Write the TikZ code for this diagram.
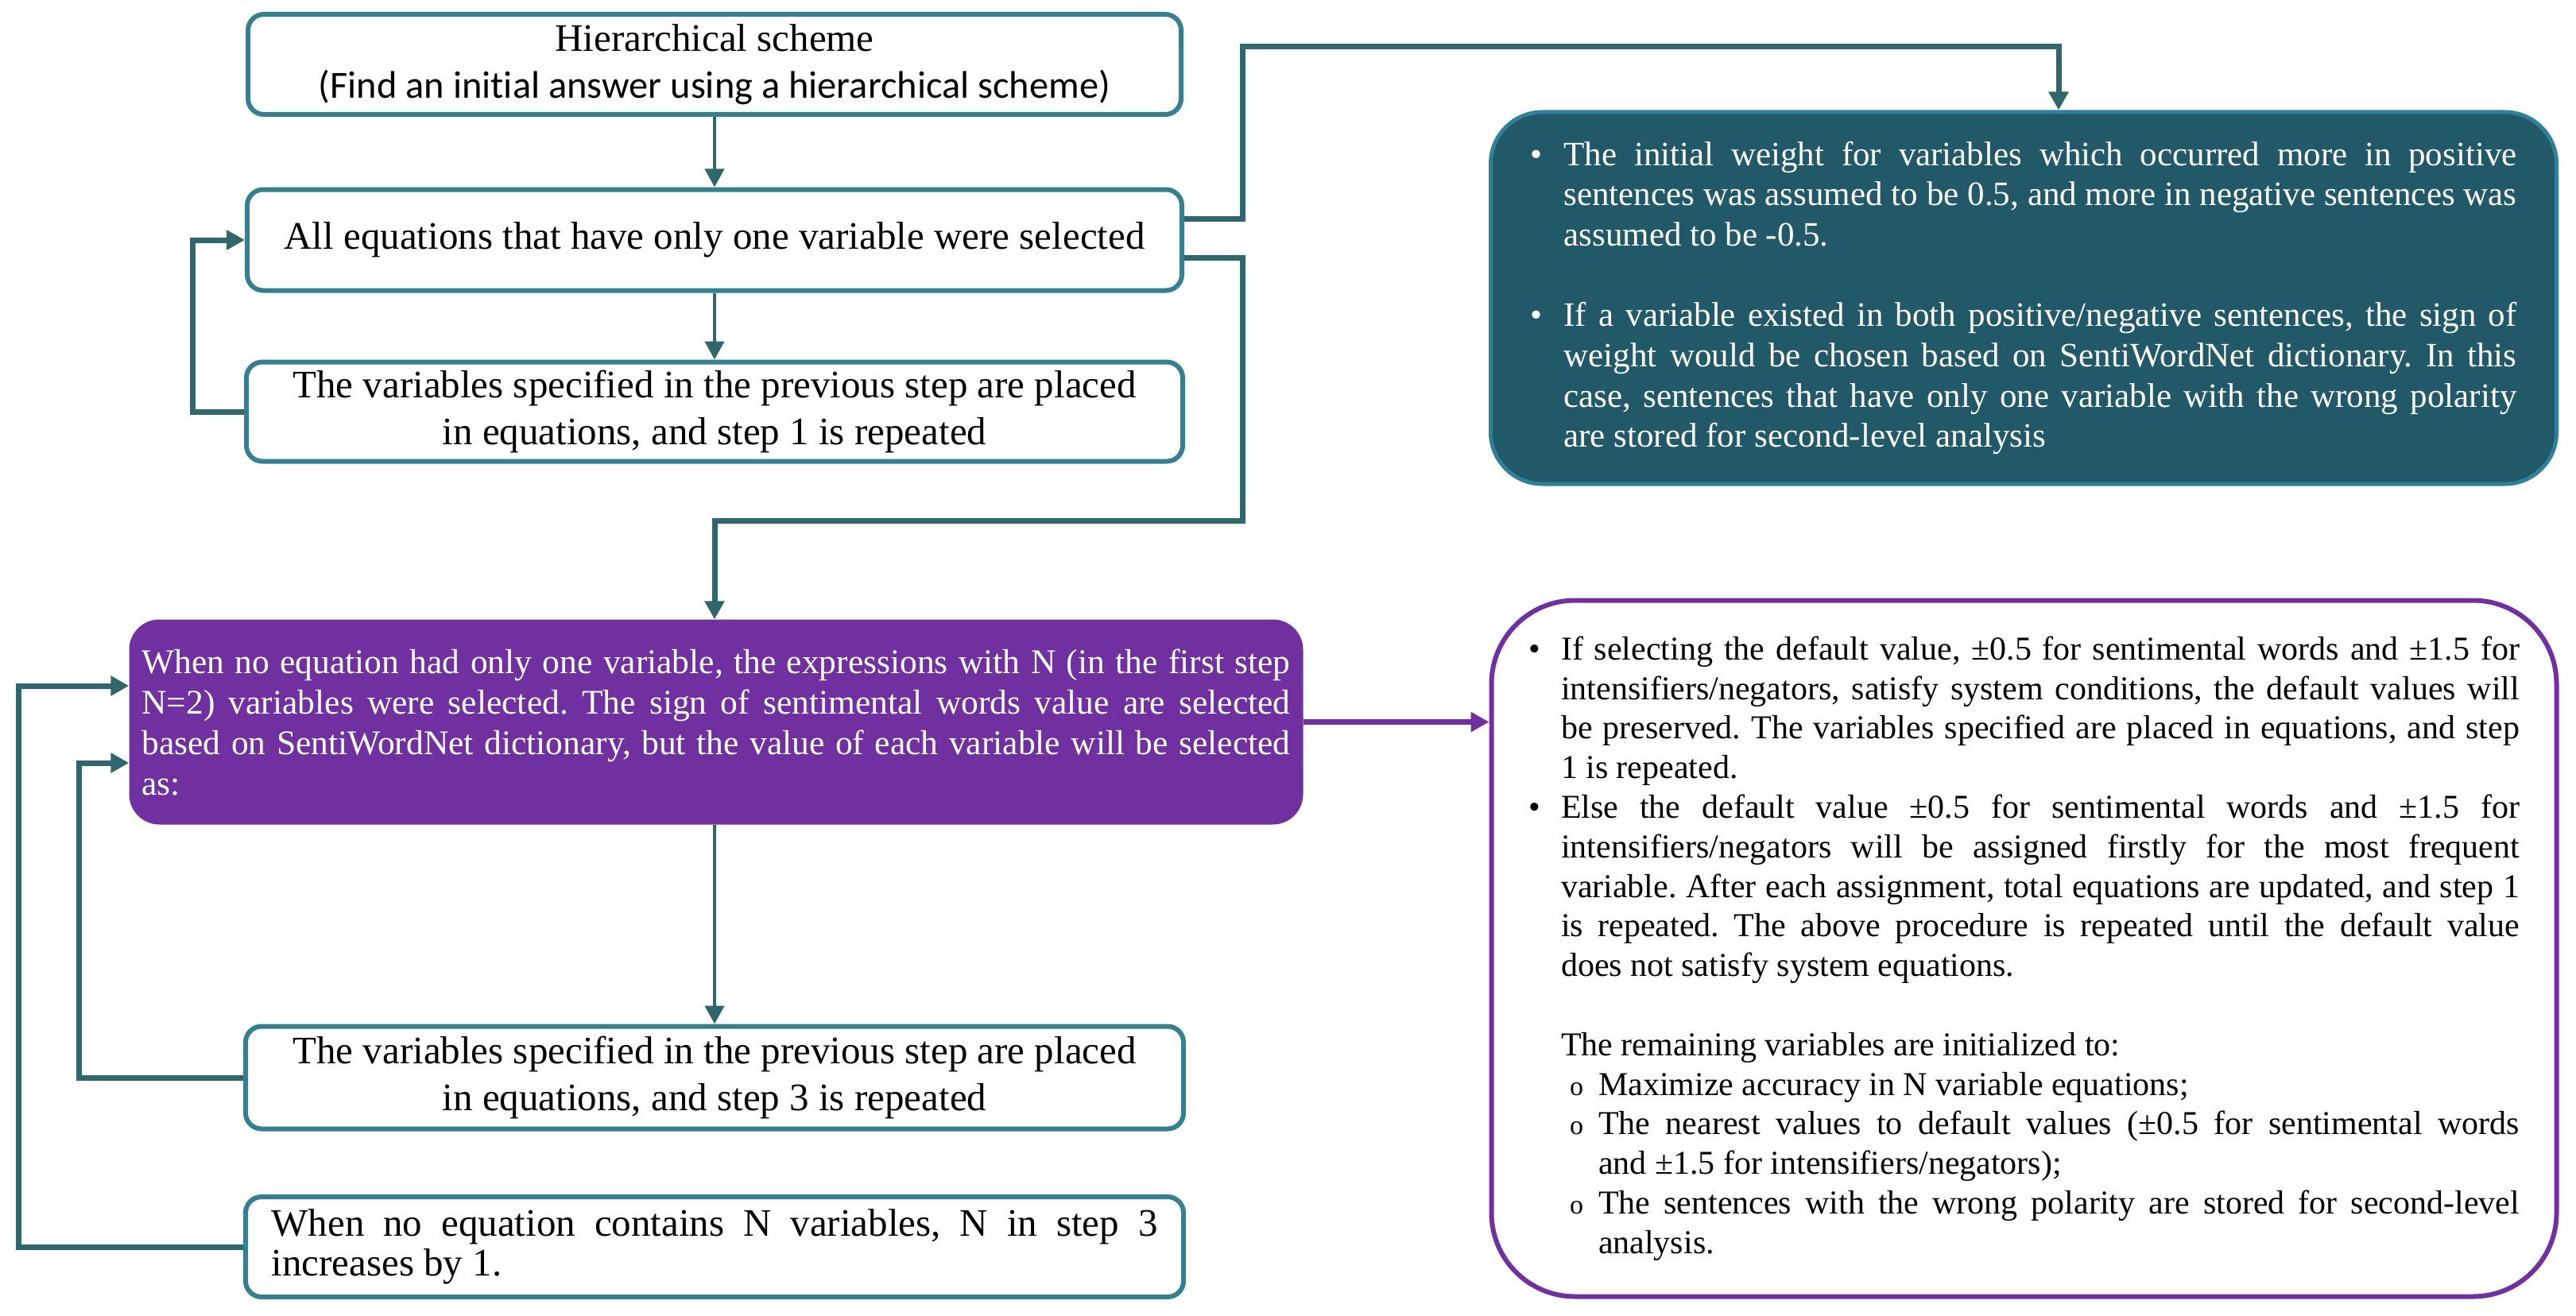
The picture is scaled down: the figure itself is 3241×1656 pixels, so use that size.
\documentclass[tikz,border=0pt]{standalone}
\usepackage{fontspec}
\setmainfont[Ligatures=NoCommon]{Liberation Serif}
\newfontfamily\calibri[Ligatures={NoCommon,NoDiscretionary,NoRare}]{Carlito}
\usetikzlibrary{arrows.meta}
\definecolor{boxteal}{HTML}{357F90}
\definecolor{darkteal}{HTML}{215968}
\definecolor{tealedge}{HTML}{31809A}
\definecolor{conn}{HTML}{2F676D}
\definecolor{purp}{HTML}{7030A0}
\newcommand{\jl}[2][0pt]{\hbox to\linewidth{\hskip#1\relax\hbox to\dimexpr\linewidth-#1\relax{#2}}}
\newcommand{\lastl}[2][0pt]{\hbox to\linewidth{\hskip#1\relax#2\hfil}}
\newcommand{\mkr}[2]{\llap{\hbox to#1{#2\hfil}}}
\newcommand{\subo}{{\fontsize{34}{34}\selectfont o}}
\newcommand{\tblock}[2]{\vbox{\hsize=#1\relax\linewidth=#1\relax #2}}
\tikzset{
  tbox/.style={draw=boxteal, line width=6pt, rounded corners=20pt, fill=white,
    inner sep=0pt, align=center, font=\fontsize{49}{59}\selectfont},
  conn/.style={draw=conn, line width=7pt, -{Triangle[length=23pt,width=24pt]}},
  vconn/.style={draw=conn, line width=4.5pt, -{Triangle[length=23pt,width=24pt]}},
  pconn/.style={draw=purp, line width=7pt, -{Triangle[length=23pt,width=24pt]}},
}
\frenchspacing
\begin{document}
\frenchspacing
\begin{tikzpicture}[x=1pt,y=-1pt]
\useasboundingbox (0,0) rectangle (3241,1656);

\node[tbox, minimum width=1174pt, minimum height=126pt] (b1) at (899,81)
  {Hierarchical scheme\\{\calibri\fontsize{48.4}{59}\selectfont (Find an initial answer using a hierarchical scheme)}};
\node[tbox, minimum width=1176pt, minimum height=127pt] (b2) at (899,302)
  {All equations that have only one variable were selected};
\node[tbox, minimum width=1178pt, minimum height=125pt] (b3) at (899,518)
  {The variables specified in the previous step are placed\\in equations, and step 1 is repeated};

\node[fill=darkteal, draw=tealedge, line width=5pt, rounded corners=65pt,
  minimum width=1341pt, minimum height=468pt, inner sep=0pt, text=white,
  font=\fontsize{43}{50.7}\selectfont] (teal) at (2546,375)
  {\tblock{1241pt}{%
   \jl[42pt]{\mkr{42pt}{\textbullet}The initial weight for variables which occurred more in positive}
   \jl[42pt]{sentences was assumed to be 0.5, and more in negative sentences was}
   \lastl[42pt]{assumed to be -0.5.}
   \hbox{}
   \jl[42pt]{\mkr{42pt}{\textbullet}If a variable existed in both positive/negative sentences, the sign of}
   \jl[42pt]{weight would be chosen based on SentiWordNet dictionary. In this}
   \jl[42pt]{case, sentences that have only one variable with the wrong polarity}
   \lastl[42pt]{are stored for second-level analysis}}};

\node[fill=purp, draw=none, rounded corners=38pt,
  minimum width=1477pt, minimum height=258pt, inner sep=0pt, text=white,
  font=\fontsize{43.5}{51}\selectfont] (pF) at (901,908.5)
  {\tblock{1445pt}{%
   \jl{When no equation had only one variable, the expressions with N (in the first step}
   \jl{N=2) variables were selected. The sign of sentimental words value are selected}
   \jl{based on SentiWordNet dictionary, but the value of each variable will be selected}
   \lastl{as:}}};

\node[draw=purp, fill=white, line width=6pt, rounded corners=105pt,
  minimum width=1340pt, minimum height=876pt, inner sep=0pt,
  font=\fontsize{42}{49.8}\selectfont] (ol) at (2546.5,1193.5)
  {\tblock{1247pt}{%
   \jl[41pt]{\mkr{41pt}{\textbullet}If selecting the default value, ±0.5 for sentimental words and ±1.5 for}
   \jl[41pt]{intensifiers/negators, satisfy system conditions, the default values will}
   \jl[41pt]{be preserved. The variables specified are placed in equations, and step}
   \lastl[41pt]{1 is repeated.}
   \jl[41pt]{\mkr{41pt}{\textbullet}Else the default value ±0.5 for sentimental words and ±1.5 for}
   \jl[41pt]{intensifiers/negators will be assigned firstly for the most frequent}
   \jl[41pt]{variable. After each assignment, total equations are updated, and step 1}
   \jl[41pt]{is repeated. The above procedure is repeated until the default value}
   \lastl[41pt]{does not satisfy system equations.}
   \hbox{}
   \lastl[41pt]{The remaining variables are initialized to:}
   \lastl[88pt]{\mkr{36pt}{\subo}Maximize accuracy in N variable equations;}
   \jl[88pt]{\mkr{36pt}{\subo}The nearest values to default values (±0.5 for sentimental words}
   \lastl[88pt]{and ±1.5 for intensifiers/negators);}
   \jl[88pt]{\mkr{36pt}{\subo}The sentences with the wrong polarity are stored for second-level}
   \lastl[88pt]{analysis.}}};

\node[tbox, minimum width=1180pt, minimum height=129pt] (b4) at (899,1356)
  {The variables specified in the previous step are placed\\in equations, and step 3 is repeated};
\node[tbox, minimum width=1180pt, minimum height=126pt,
  font=\fontsize{49}{50}\selectfont] (b5) at (899,1569)
  {\tblock{1115pt}{%
   \jl{When no equation contains N variables, N in step 3}
   \lastl{increases by 1.}}};

% connectors
\coordinate (k1) at (1563,59);
\coordinate (k2) at (1563,655);
\coordinate (k3) at (99,960);
\coordinate (k4) at (23,863);

\draw[vconn] (b1.south) -- (b2.north);
\draw[vconn] (b2.south) -- (b3.north);
\draw[conn] (b3.west) -- ++(-65,0) |- (b2.west);
\draw[conn] ([yshift=27pt]b2.east) -| (k1) -| ([xshift=44pt]teal.north);
\draw[conn] ([yshift=-22pt]b2.east) -| (k2) -| (pF.north -| b4.north);
\draw[vconn] (pF.south -| b4.north) -- (b4.north);
\draw[pconn] (pF.east) -- (pF.east -| ol.west);
\draw[conn] (b4.west) -| (k3) -- ([yshift=-51.5pt]pF.west);
\draw[conn] (b5.west) -| (k4) -- ([yshift=45.5pt]pF.west);
\end{tikzpicture}
\end{document}
